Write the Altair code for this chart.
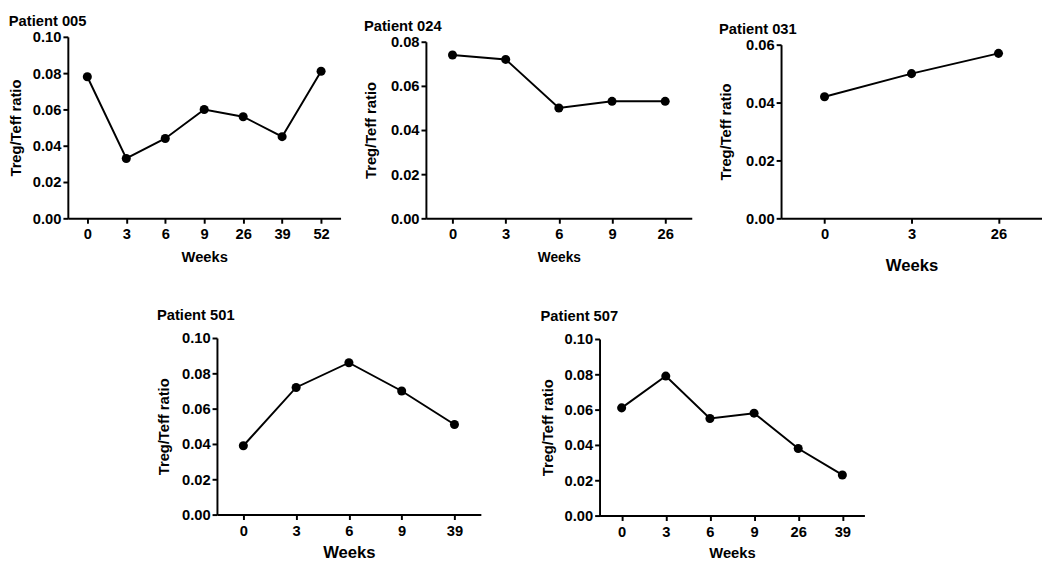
import altair as alt
import pandas as pd

FONT = "Liberation Sans"

# ---- data ----
p005_weeks = ["0", "3", "6", "9", "26", "39", "52"]
p005_ratio = [0.078, 0.033, 0.044, 0.060, 0.056, 0.045, 0.081]

p024_weeks = ["0", "3", "6", "9", "26"]
p024_ratio = [0.074, 0.072, 0.050, 0.053, 0.053]

p031_weeks = ["0", "3", "26"]
p031_ratio = [0.042, 0.050, 0.057]

p501_weeks = ["0", "3", "6", "9", "39"]
p501_ratio = [0.039, 0.072, 0.086, 0.070, 0.051]

p507_weeks = ["0", "3", "6", "9", "26", "39"]
p507_ratio = [0.061, 0.079, 0.055, 0.058, 0.038, 0.023]


def spacer(w, h):
    return (
        alt.Chart(pd.DataFrame({"a": [0]}))
        .mark_point(opacity=0, size=1)
        .encode(x=alt.value(w / 2), y=alt.value(h / 2))
        .properties(width=w, height=h)
    )


def panel(name, weeks, ratio, ymax, width, height, title_offset,
          ytitle_pad, xtitle_size, xtitle_pad):
    df = pd.DataFrame({"Week": weeks, "Ratio": ratio})
    n_ticks = int(round(ymax / 0.02))
    tick_vals = [round(i * 0.02, 2) for i in range(n_ticks + 1)]
    x = alt.X(
        "Week:O", sort=weeks,
        scale=alt.Scale(type="point", padding=0.5),
        axis=alt.Axis(title="Weeks", labelAngle=0, titleFontSize=xtitle_size,
                      titlePadding=xtitle_pad, labelPadding=4),
    )
    y = alt.Y(
        "Ratio:Q",
        scale=alt.Scale(domain=[0, ymax], nice=False, zero=True),
        axis=alt.Axis(title="Treg/Teff ratio", values=tick_vals, format=".2f",
                      titlePadding=ytitle_pad, labelPadding=2),
    )
    base = alt.Chart(df).encode(x=x, y=y)
    line = base.mark_line(color="black", strokeWidth=2)
    pts = base.mark_circle(color="black", size=85, opacity=1)
    return alt.layer(line, pts).properties(
        width=width, height=height,
        title=alt.Title(name, anchor="start", frame="bounds", offset=title_offset,
                        fontSize=15, fontWeight="bold", font=FONT, color="black"),
    )


p1 = panel("Patient 005", p005_weeks, p005_ratio, 0.10, 278, 185, 1, 9, 15, 8)
p2 = panel("Patient 024", p024_weeks, p024_ratio, 0.08, 271, 180, 1, 12, 14, 9)
p3 = panel("Patient 031", p031_weeks, p031_ratio, 0.06, 266, 177, 1, 12, 17, 16)
p4 = panel("Patient 501", p501_weeks, p501_ratio, 0.10, 269, 180, 8, 10, 17, 7)
p5 = panel("Patient 507", p507_weeks, p507_ratio, 0.10, 270, 180, 8, 9, 15, 7)

top = alt.hconcat(
    alt.vconcat(spacer(2, 1), p1, spacing=0),
    alt.hconcat(
        alt.vconcat(spacer(2, 6), p2, spacing=0),
        alt.vconcat(spacer(2, 9), p3, spacing=0),
        spacing=27,
    ),
    spacing=23,
)
bottom = alt.hconcat(
    spacer(30, 2),
    alt.vconcat(spacer(2, 1), p4, spacing=0),
    alt.vconcat(spacer(2, 2), p5, spacing=0),
    spacing=60,
)

chart = (
    alt.vconcat(top, bottom, spacing=35)
    .properties(padding=0, background="white")
    .configure_view(strokeWidth=0)
    .configure_axis(
        grid=False,
        domainColor="black", domainWidth=2,
        tickColor="black", tickWidth=2, tickSize=5,
        labelFont=FONT, labelFontSize=15, labelFontWeight="bold", labelColor="black",
        titleFont=FONT, titleFontSize=15, titleFontWeight="bold", titleColor="black",
    )
)

chart.save("out.html", embed_options={"renderer": "svg", "actions": False})
